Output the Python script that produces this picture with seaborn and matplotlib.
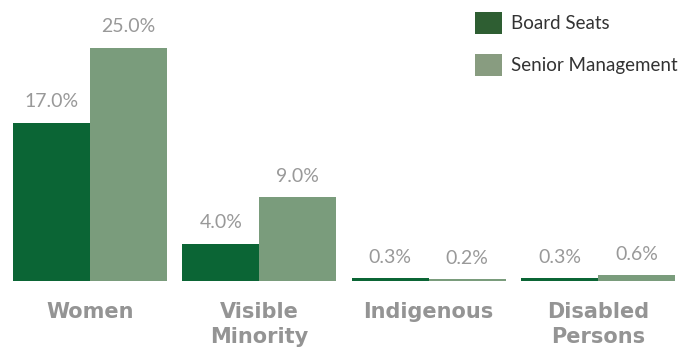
import matplotlib
matplotlib.use("Agg")
import matplotlib.pyplot as plt
from matplotlib.patches import Patch
import seaborn as sns
import pandas as pd

categories = ["Women", "Visible\nMinority", "Indigenous", "Disabled\nPersons"]
board_seats = [17.0, 4.0, 0.3, 0.3]
senior_management = [25.0, 9.0, 0.2, 0.6]
series_names = ["Board Seats", "Senior Management"]

bar_colors = ["#0b6535", "#7a9c7c"]
legend_colors = ["#2e5e32", "#889c80"]
text_gray = "#949494"

df = pd.DataFrame({
    "category": categories * 2,
    "group": [series_names[0]] * len(categories) + [series_names[1]] * len(categories),
    "value": board_seats + senior_management,
})

sns.set_theme(style="white")
plt.rcParams["font.family"] = ["Lato", "DejaVu Sans"]

fig = plt.figure(figsize=(6.95, 3.49), dpi=100)
ax = fig.add_axes([0.0, 0.195, 1.0, 0.805])

sns.barplot(data=df, x="category", y="value", hue="group", order=categories,
            hue_order=series_names, palette=bar_colors, width=0.91,
            saturation=1, linewidth=0, legend=False, ax=ax)

# horizontal range chosen so the bars span roughly x = 13..675 px
ax.set_xlim(-0.532, 3.573)
ax.set_ylim(0, 30.15)

for container in ax.containers:
    labels = [f"{v:.1f}%" for v in container.datavalues]
    ax.bar_label(container, labels=labels, padding=9, fontsize=14,
                 color="#999999", fontweight="normal")

ax.set_xticks(range(len(categories)))
ax.set_xticklabels(categories, fontsize=15, fontweight="bold",
                   color=text_gray, linespacing=1.3, va="top",
                   family="DejaVu Sans")
ax.tick_params(axis="x", length=0, pad=15)
ax.set_yticks([])
ax.set_xlabel("")
ax.set_ylabel("")
for side in ax.spines.values():
    side.set_visible(False)

handles = [Patch(facecolor=c, edgecolor="none") for c in legend_colors]
ax.legend(handles, series_names, loc="upper right", bbox_to_anchor=(0.996, 1.012),
          frameon=False, fontsize=13.5, handlelength=1.45, handleheight=1.45,
          handletextpad=0.45, labelspacing=1.05, borderaxespad=0.4,
          labelcolor="#333333")

fig.savefig("out.png", dpi=100, facecolor="white")
